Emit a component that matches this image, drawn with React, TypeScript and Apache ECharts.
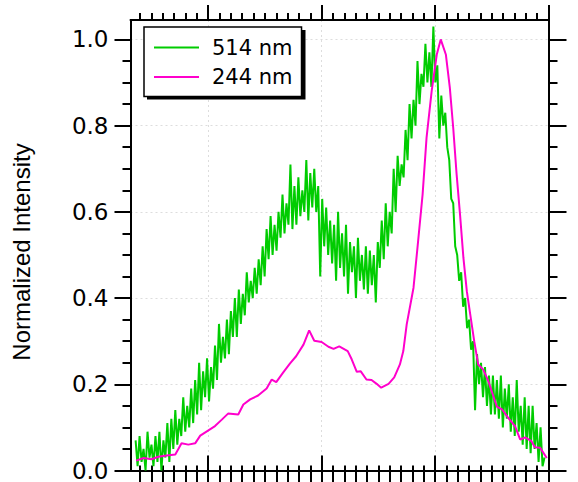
import React, { useEffect, useRef } from "react";
import * as echarts from "echarts";

// X axis (Raman shift, cm^-1) range and ticks
const X_MIN = 1063;
const X_MAX = 1800;
const MAJOR_X = [1200, 1400, 1600, 1800];
const MINOR_X = [1080, 1100, 1120, 1140, 1160, 1180, 1220, 1240, 1260, 1280, 1300, 1320, 1340, 1360, 1380, 1420, 1440, 1460, 1480, 1500, 1520, 1540, 1560, 1580, 1620, 1640, 1660, 1680, 1700, 1720, 1740, 1760, 1780];

// Y axis
const Y_MIN = 0;
const Y_MAX = 1.045;
const MAJOR_Y = [0, 0.2, 0.4, 0.6, 0.8, 1.0];
const MINOR_Y = [0.05, 0.1, 0.15, 0.25, 0.3, 0.35, 0.45, 0.5, 0.55, 0.65, 0.7, 0.75, 0.85, 0.9, 0.95];

const Y_TITLE = "Normalized Intensity";
const SERIES_NAMES = ["514 nm", "244 nm"];

// 514 nm spectrum (noisy), evenly sampled
const GREEN_START = 1072;
const GREEN_STEP = 3.5;
const GREEN_VALUES = [
  0.07, 0.01, 0.08, 0.02, 0.05, 0.0, 0.09, 0.03, 0.06, 0.01,
  0.08, 0.02, 0.09, 0.0, 0.07, 0.03, 0.11, 0.02, 0.12, 0.05,
  0.14, 0.06, 0.12, 0.08, 0.17, 0.09, 0.15, 0.1, 0.19, 0.11,
  0.21, 0.13, 0.25, 0.14, 0.23, 0.17, 0.26, 0.16, 0.24, 0.19,
  0.29, 0.21, 0.34, 0.25, 0.31, 0.26, 0.35, 0.27, 0.37, 0.31,
  0.4, 0.31, 0.42, 0.34, 0.41, 0.36, 0.46, 0.39, 0.44, 0.4,
  0.47, 0.41, 0.49, 0.43, 0.52, 0.45, 0.56, 0.49, 0.59, 0.5,
  0.57, 0.51, 0.6, 0.54, 0.64, 0.55, 0.62, 0.57, 0.71, 0.56,
  0.66, 0.57, 0.68, 0.59, 0.65, 0.6, 0.72, 0.58, 0.69, 0.61,
  0.7, 0.6, 0.66, 0.45, 0.63, 0.52, 0.61, 0.5, 0.58, 0.48,
  0.57, 0.44, 0.6, 0.47, 0.55, 0.45, 0.57, 0.41, 0.53, 0.46,
  0.52, 0.4, 0.54, 0.44, 0.5, 0.42, 0.52, 0.41, 0.51, 0.43,
  0.5, 0.39, 0.53, 0.47, 0.58, 0.49, 0.62, 0.52, 0.6, 0.55,
  0.7, 0.6, 0.73, 0.66, 0.71, 0.68, 0.79, 0.72, 0.85, 0.77,
  0.86, 0.8, 0.95, 0.85, 0.92, 0.89, 0.99, 0.9, 0.97, 0.89,
  1.03, 0.9, 0.94, 0.77, 0.87, 0.8, 0.83, 0.75, 0.72, 0.63,
  0.62, 0.52, 0.5, 0.44, 0.46, 0.38, 0.4, 0.33, 0.35, 0.28,
  0.3, 0.14, 0.27, 0.2, 0.25, 0.17, 0.24, 0.15, 0.22, 0.13,
  0.22, 0.13, 0.21, 0.12, 0.22, 0.1, 0.19, 0.12, 0.2, 0.09,
  0.17, 0.08, 0.21, 0.09, 0.15, 0.06, 0.17, 0.05, 0.15, 0.04,
  0.15, 0.05, 0.11, 0.02, 0.1, 0.01, 0.03,
];

// 244 nm spectrum
const MAGENTA_X = [1073, 1086, 1100, 1112, 1127, 1142, 1153, 1165, 1177, 1186, 1212, 1224, 1235, 1253, 1262, 1274, 1288, 1303, 1312, 1320, 1332, 1344, 1355, 1368, 1378, 1387, 1400, 1412, 1421, 1431, 1446, 1453, 1462, 1469, 1479, 1488, 1497, 1505, 1518, 1528, 1538, 1544, 1550, 1562, 1569, 1578, 1585, 1594, 1603, 1610, 1619, 1626, 1632, 1638, 1644, 1650, 1656, 1662, 1669, 1676, 1685, 1694, 1709, 1718, 1729, 1741, 1750, 1759, 1770, 1776, 1785, 1797];
const MAGENTA_Y = [0.023, 0.029, 0.026, 0.032, 0.035, 0.037, 0.063, 0.06, 0.063, 0.081, 0.103, 0.118, 0.132, 0.13, 0.153, 0.165, 0.174, 0.19, 0.211, 0.205, 0.227, 0.248, 0.265, 0.292, 0.325, 0.301, 0.298, 0.287, 0.282, 0.288, 0.277, 0.258, 0.229, 0.23, 0.211, 0.21, 0.201, 0.192, 0.201, 0.216, 0.246, 0.277, 0.339, 0.424, 0.517, 0.64, 0.772, 0.88, 0.965, 1.0, 0.965, 0.888, 0.795, 0.687, 0.594, 0.493, 0.416, 0.362, 0.3, 0.246, 0.234, 0.207, 0.148, 0.142, 0.122, 0.103, 0.072, 0.077, 0.068, 0.054, 0.053, 0.029];

const GREEN = "#00cc00";
const MAGENTA = "#ff00cc";

export default function App() {
  const ref = useRef<HTMLDivElement>(null);

  useEffect(() => {
    if (!ref.current) return;
    const chart = echarts.init(ref.current, undefined, { renderer: "svg" });

    const greenData = GREEN_VALUES.map((v, i) => [GREEN_START + i * GREEN_STEP, v]);
    const magentaData = MAGENTA_X.map((x, i) => [x, MAGENTA_Y[i]]);

    const hiddenLabel = { show: false };
    const noLine = { show: false };
    const blackLine = { show: true, lineStyle: { color: "#000", width: 2 } };
    const splitDash = { show: true, lineStyle: { color: "#dddddd", width: 1, type: [2, 3] } };

    const xAx = (opts: any) => ({
      type: "value",
      min: X_MIN,
      max: X_MAX,
      axisLabel: hiddenLabel,
      splitLine: { show: false },
      ...opts,
    });
    const yAx = (opts: any) => ({
      type: "value",
      min: Y_MIN,
      max: Y_MAX,
      axisLabel: hiddenLabel,
      splitLine: { show: false },
      ...opts,
    });

    chart.setOption({
      animation: false,
      backgroundColor: "#fff",
      grid: { left: 130.5, right: 29.5, top: 20, bottom: 11, containLabel: false },
      xAxis: [
        xAx({
          position: "bottom",
          axisLine: blackLine,
          axisTick: { show: true, inside: true, length: 15, customValues: MAJOR_X, lineStyle: { color: "#000", width: 2 } },
          splitLine: splitDash,
        }),
        xAx({
          position: "bottom",
          axisLine: noLine,
          axisTick: { show: true, inside: false, length: 12, customValues: MAJOR_X, lineStyle: { color: "#000", width: 2 } },
        }),
        xAx({
          position: "bottom",
          axisLine: noLine,
          axisTick: { show: true, inside: true, length: 5, customValues: MINOR_X, lineStyle: { color: "#000", width: 2 } },
        }),
        xAx({
          position: "bottom",
          axisLine: noLine,
          axisTick: { show: true, inside: false, length: 12, customValues: MINOR_X, lineStyle: { color: "#000", width: 2 } },
        }),
        xAx({
          position: "top",
          axisLine: blackLine,
          axisTick: { show: true, inside: false, length: 15, customValues: MAJOR_X, lineStyle: { color: "#000", width: 2 } },
        }),
        xAx({
          position: "top",
          axisLine: noLine,
          axisTick: { show: true, inside: false, length: 7, customValues: MINOR_X, lineStyle: { color: "#000", width: 2 } },
        }),
      ],
      yAxis: [
        yAx({
          position: "left",
          axisLine: blackLine,
          axisTick: { show: true, inside: false, length: 16, customValues: MAJOR_Y, lineStyle: { color: "#000", width: 2 } },
          axisLabel: {
            show: true,
            customValues: MAJOR_Y,
            formatter: (v: number) => v.toFixed(1),
            fontFamily: "DejaVu Sans",
            fontSize: 23,
            color: "#000",
            margin: 22,
          },
          splitLine: splitDash,
        }),
        yAx({
          position: "left",
          axisLine: noLine,
          axisTick: { show: true, inside: false, length: 8, customValues: MINOR_Y, lineStyle: { color: "#000", width: 2 } },
        }),
        yAx({
          position: "right",
          axisLine: blackLine,
          axisTick: { show: true, inside: false, length: 18, customValues: MAJOR_Y, lineStyle: { color: "#000", width: 2 } },
        }),
        yAx({
          position: "right",
          axisLine: noLine,
          axisTick: { show: true, inside: false, length: 9, customValues: MINOR_Y, lineStyle: { color: "#000", width: 2 } },
        }),
      ],
      legend: {
        data: SERIES_NAMES,
        orient: "vertical",
        left: 144,
        top: 27,
        padding: [10, 9, 9, 10],
        itemGap: 8.6,
        itemWidth: 45,
        itemHeight: 2,
        icon: "rect",
        backgroundColor: "#fff",
        borderColor: "#000",
        borderWidth: 1.5,
        z: 5,
        textStyle: { fontFamily: "DejaVu Sans", fontSize: 21, color: "#000", padding: [0, 0, 0, 8] },
      },
      graphic: [
        {
          type: "rect",
          z: 4,
          shape: { x: 147, y: 30, width: 158.5, height: 69.5 },
          style: { fill: "#000" },
        },
        {
          type: "text",
          x: 21.5,
          y: 252,
          rotation: Math.PI / 2,
          style: {
            text: Y_TITLE,
            font: "24px 'Liberation Sans'",
            fill: "#000",
            align: "center",
            verticalAlign: "middle",
          },
        },
      ],
      series: [
        {
          name: SERIES_NAMES[0],
          type: "line",
          data: greenData,
          symbol: "none",
          showSymbol: false,
          color: GREEN,
          lineStyle: { color: GREEN, width: 2 },
          z: 2,
        },
        {
          name: SERIES_NAMES[1],
          type: "line",
          data: magentaData,
          symbol: "none",
          showSymbol: false,
          color: MAGENTA,
          lineStyle: { color: MAGENTA, width: 2 },
          z: 3,
        },
      ],
    });

    return () => chart.dispose();
  }, []);

  return (
    <div
      ref={ref}
      style={{ position: "fixed", left: 0, top: 0, width: 578, height: 482, background: "#fff" }}
    />
  );
}
